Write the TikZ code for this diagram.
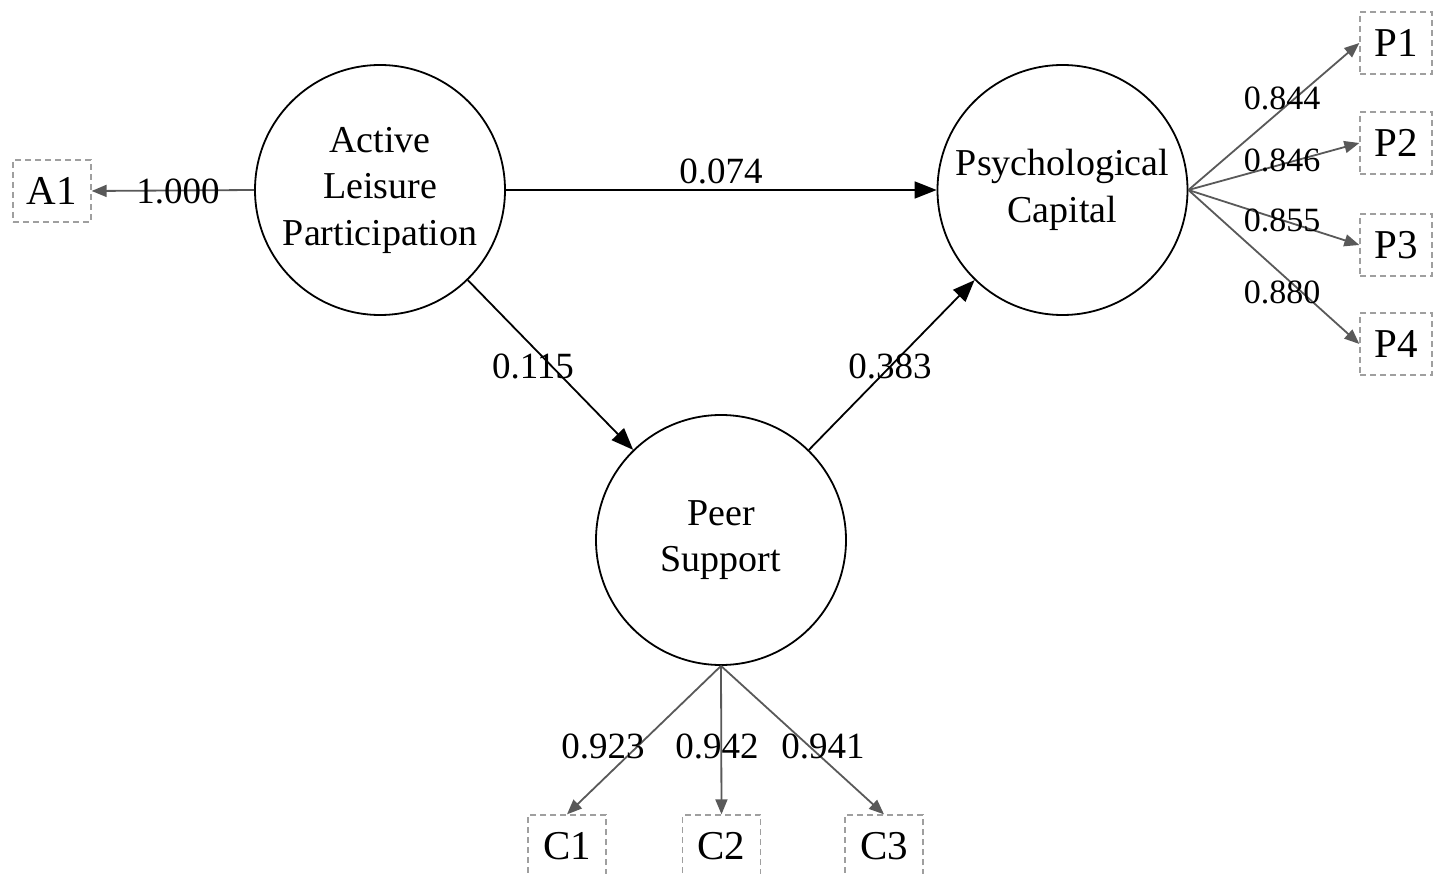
\documentclass[tikz,border=0pt]{standalone}
\usepackage{fontspec}
\setmainfont{Liberation Serif}
\usetikzlibrary{arrows.meta}
\begin{document}
\begin{tikzpicture}[x=1pt,y=-1pt,
  every node/.style={font=\fontsize{37}{46.5}\selectfont},
  latent/.style={circle,draw=black,line width=1.8pt,minimum size=250pt,inner sep=0pt,align=center,font=\fontsize{38}{46.5}\selectfont},
  indicator/.style={draw=gray!75,dash pattern=on 6pt off 4pt,line width=1.3pt,minimum width=78pt,minimum height=62pt,inner sep=0pt,font=\fontsize{41}{46}\selectfont},
  pind/.style={indicator,minimum width=72pt},
  path/.style={draw=black,line width=1.8pt,-{Triangle[length=22pt,width=17pt]}},
  load/.style={draw=black!65,line width=1.8pt,-{Triangle[length=15pt,width=12pt]}},
  lab/.style={inner sep=0pt}]
\clip (0,0) rectangle (1436,874);
\node[latent] (alp) at (380,190) {Active\\Leisure\\Participation};
\node[latent] (pc) at (1062.5,190) {Psychological\\Capital};
\node[latent] (ps) at (721,540) {Peer\\Support};
\node[indicator] (a1) at (52,191) {A1};
\node[pind] (p1) at (1396,43) {P1};
\node[pind] (p2) at (1396,143) {P2};
\node[pind] (p3) at (1396,245) {P3};
\node[pind] (p4) at (1396,344) {P4};
\node[indicator] (c1) at (567,846) {C1};
\node[indicator] (c2) at (721.5,846) {C2};
\node[indicator] (c3) at (884,846) {C3};
\draw[path] (alp) -- (pc);
\draw[path] (alp) -- (ps);
\draw[path] (ps) -- (pc);
\draw[load] (alp.west) -- (a1.east);
\draw[load] (pc.east) -- (p1.west);
\draw[load] (pc.east) -- (p2.west);
\draw[load] (pc.east) -- (p3.west);
\draw[load] (pc.east) -- (p4.west);
\draw[load] (ps.south) -- (c1.north);
\draw[load] (ps.south) -- (c2.north);
\draw[load] (ps.south) -- (c3.north);
\node[lab] (l074) at (721,171) {0.074};
\node[lab] (l115) at (533,366) {0.115};
\node[lab] (l383) at (890,366) {0.383};
\node[lab] (l1000) at (178,191) {1.000};
\node[lab,font=\fontsize{34}{40}\selectfont] (l844) at (1282,98) {0.844};
\node[lab,font=\fontsize{34}{40}\selectfont] (l846) at (1282,160) {0.846};
\node[lab,font=\fontsize{34}{40}\selectfont] (l855) at (1282,220) {0.855};
\node[lab,font=\fontsize{34}{40}\selectfont] (l880) at (1282,292) {0.880};
\node[lab] (l923) at (603,746) {0.923};
\node[lab] (l942) at (717,746) {0.942};
\node[lab] (l941) at (823,746) {0.941};
\end{tikzpicture}
\end{document}
